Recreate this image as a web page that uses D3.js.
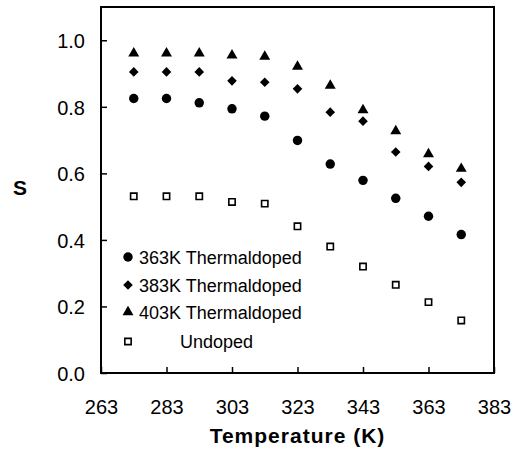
<!DOCTYPE html>
<html><head><meta charset="utf-8">
<script src="https://cdn.jsdelivr.net/npm/d3@7"></script>
<style>body{margin:0;background:#fff}svg{display:block}text{font-family:"Liberation Sans",Arial,sans-serif;fill:#000}</style>
</head><body><svg id="c" width="514" height="454"></svg>
<script>
const temps = [273, 283, 293, 303, 313, 323, 333, 343, 353, 363, 373];
const s363 = [0.825, 0.825, 0.812, 0.794, 0.772, 0.699, 0.628, 0.579, 0.525, 0.471, 0.416];
const s383 = [0.905, 0.905, 0.905, 0.878, 0.874, 0.854, 0.784, 0.757, 0.664, 0.621, 0.573];
const s403 = [0.961, 0.961, 0.961, 0.955, 0.951, 0.921, 0.864, 0.790, 0.727, 0.658, 0.614];
const sUndoped = [0.531, 0.531, 0.531, 0.514, 0.509, 0.441, 0.380, 0.320, 0.265, 0.213, 0.158];
const xTicks = [263, 283, 303, 323, 343, 363, 383];
const yTicks = [0, 0.2, 0.4, 0.6, 0.8, 1.0];
const seriesNames = ["363K Thermaldoped", "383K Thermaldoped", "403K Thermaldoped", "Undoped"];

const series = [
  {name: seriesNames[0], vals: s363, sym: d3.symbolCircle, size: 70, fill: "#000", stroke: "none"},
  {name: seriesNames[1], vals: s383, sym: d3.symbolSquare, size: 46, fill: "#000", stroke: "none", rot: 45},
  {name: seriesNames[2], vals: s403, sym: d3.symbolTriangle, size: 52, fill: "#000", stroke: "none"},
  {name: seriesNames[3], vals: sUndoped, sym: d3.symbolSquare, size: 40, fill: "#fff", stroke: "#000"}
];

const L = 101, R = 494, T = 7, B = 373;
const x = d3.scaleLinear().domain([263, 383]).range([L, R]);
const y = d3.scaleLinear().domain([0, 1.1]).range([B, T]);
const svg = d3.select("#c");

// axes
const xAxis = d3.axisBottom(x).tickValues(xTicks).tickSizeInner(-6).tickSizeOuter(0).tickFormat(d3.format("d")).tickPadding(0);
const gx = svg.append("g").attr("transform", `translate(0,${B})`).call(xAxis);
gx.select(".domain").remove();
gx.selectAll("line").attr("stroke", "#000").attr("stroke-width", 1.5);
gx.selectAll("text").attr("y", 41).attr("dy", null).style("font-size", "20px").style("font-family", '"Liberation Sans",Arial,sans-serif');

const yAxis = d3.axisLeft(y).tickValues(yTicks).tickSizeInner(-6).tickSizeOuter(0).tickFormat(d3.format(".1f"));
const gy = svg.append("g").attr("transform", `translate(${L},0)`).call(yAxis);
gy.select(".domain").remove();
gy.selectAll("line").attr("stroke", "#000").attr("stroke-width", 1.5);
gy.selectAll("text").attr("x", -16).attr("dy", "0.36em").style("font-size", "20px").style("font-family", '"Liberation Sans",Arial,sans-serif');

// frame
svg.append("rect").attr("x", L).attr("y", T).attr("width", R - L).attr("height", B - T)
  .attr("fill", "none").attr("stroke", "#000").attr("stroke-width", 2);

// points
series.forEach(s => {
  const sym = d3.symbol().type(s.sym).size(s.size);
  svg.append("g").selectAll("path").data(s.vals).join("path")
    .attr("d", sym)
    .attr("transform", (v, i) => `translate(${x(temps[i])},${y(v)})` + (s.rot ? ` rotate(${s.rot})` : ""))
    .attr("fill", s.fill).attr("stroke", s.stroke).attr("stroke-width", 1.6);
});

// legend
const legY = [257, 285, 312, 341.5];
series.forEach((s, i) => {
  const sym = d3.symbol().type(s.sym).size(s.size);
  svg.append("path").attr("d", sym)
    .attr("transform", `translate(128,${legY[i]})` + (s.rot ? ` rotate(${s.rot})` : ""))
    .attr("fill", s.fill).attr("stroke", s.stroke).attr("stroke-width", 1.6);
  svg.append("text").attr("x", i === 3 ? 180 : 139).attr("y", legY[i] + 6.5)
    .style("font-size", "18px").text(s.name);
});

// axis titles
svg.append("text").attr("x", (L + R) / 2).attr("y", 443).attr("text-anchor", "middle")
  .style("font-size", "21px").style("font-weight", "bold").style("letter-spacing", "1px").text("Temperature (K)");
svg.append("text").attr("x", 20).attr("y", 195).attr("text-anchor", "middle")
  .style("font-size", "21px").style("font-weight", "bold").text("S");
</script></body></html>
